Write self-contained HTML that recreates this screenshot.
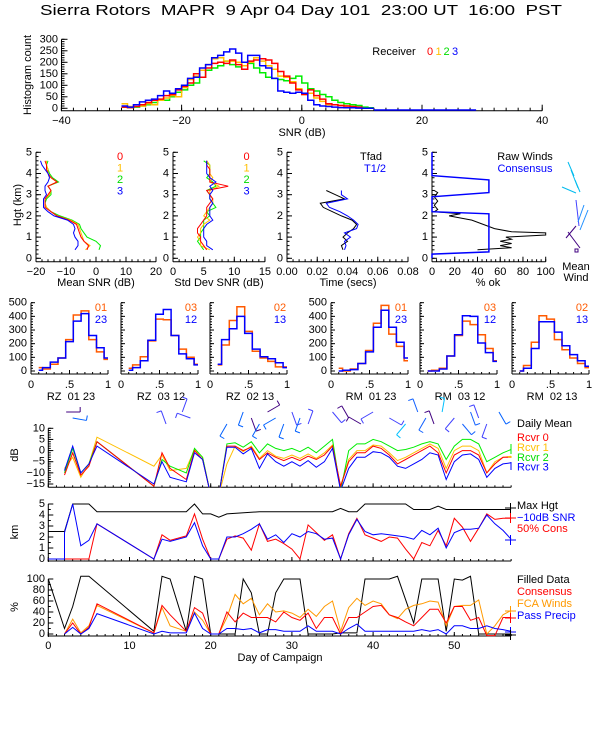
<!DOCTYPE html>
<html><head><meta charset="utf-8"><style>
html,body{margin:0;padding:0;background:#fff;}
svg{display:block;}
text{font-family:"Liberation Sans",sans-serif;white-space:pre;}
</style></head><body>
<svg id="chart" width="600" height="750" viewBox="0 0 600 750" xmlns="http://www.w3.org/2000/svg">
<rect x="0" y="0" width="600" height="750" fill="#fff"/>
<text x="301" y="15" text-anchor="middle" font-size="15" textLength="522" lengthAdjust="spacingAndGlyphs" xml:space="preserve" style="white-space:pre">Sierra Rotors  MAPR  9 Apr 04 Day 101  23:00 UT  16:00  PST</text>
</svg>
<script>
// ===== DATA =====
const snrBinStart = -30;
const histR0 = [5,3,8,15,25,35,40,55,60,80,95,110,150,135,175,195,200,195,210,190,170,205,210,215,210,195,160,140,110,80,60,80,55,40,20,15,12,10,8,5,0,0];
const histR1 = [20,8,15,10,20,15,35,45,55,50,90,125,140,165,190,215,220,205,205,200,185,200,220,205,185,170,140,135,115,85,60,65,45,30,15,15,12,10,5,3,0,0];
const histR2 = [5,3,5,10,15,25,35,35,50,70,80,100,110,135,165,175,185,205,190,180,200,195,175,155,135,130,125,120,130,140,110,85,75,60,50,35,25,20,15,12,5,2];
const histR3 = [10,5,15,28,35,40,55,75,65,85,100,130,135,175,190,220,230,245,258,240,200,230,230,185,175,130,75,70,65,70,65,35,15,10,8,5,3,2,2,1,0,0];
const profHgt = [0.4,0.6,0.8,1.0,1.2,1.4,1.6,1.8,2.0,2.2,2.4,2.6,2.8,3.0,3.2,3.4,3.6,3.8,4.0,4.2,4.4,4.6];
const meanSnr0 = [-3,-2.5,-4,-5,-5.5,-6,-6.5,-9,-13,-15,-17,-17,-17,-16,-15,-16,-13,-15,-16,-16.5,-16.5,-17];
const meanSnr1 = [-3.5,-2,-4,-4.5,-5,-5.5,-6,-8.5,-13,-15,-16.5,-17,-17,-15.5,-15,-16,-13,-15,-16,-16,-16.5,-16.5];
const meanSnr2 = [1,1.5,0,-3,-4,-5,-5.5,-8,-12,-15,-16.5,-17,-16.5,-15,-15,-16,-12.5,-14.5,-15.5,-16,-16.5,-16];
const meanSnr3 = [-7,-6,-6,-7,-7.5,-7,-7.5,-9.5,-14,-16,-17.5,-17.5,-17.5,-16.5,-17,-17,-16,-15.5,-16,-17,-18,-18.5];
const sdSnr0 = [5.5,5,4.5,4.5,4,4,4.5,5,5.5,5.5,5.5,6,6.5,6,5.5,9,6,6,6,6,5.5,5.5];
const sdSnr1 = [6,4.5,4.5,4,4.5,4.5,5,6,5,5.5,6,6.5,6.5,6,6,7.5,6,6.5,6,6,6,5.5];
const sdSnr2 = [5,4.5,4,4.5,4.5,5,5,5,6,5.5,7,6.5,6,6,5.5,7,6.5,5.5,6,6,6,5];
const sdSnr3 = [6.5,5.5,5.5,5,5,5,5.5,6.5,6,6,6,6.5,6,6,6.5,6,7,6,5.5,5.5,5.5,5.5];
const timeHgt = [0.4,0.6,0.8,1.0,1.2,1.4,1.6,1.8,2.0,2.2,2.4,2.6,2.8,3.0,3.2];
const tFad = [0.037,0.036,0.040,0.037,0.040,0.044,0.046,0.043,0.036,0.030,0.024,0.022,0.038,0.032,0.026];
const tHalf = [0.038,0.039,0.038,0.042,0.038,0.046,0.047,0.044,0.040,0.035,0.028,0.026,0.040,0.036,0.036];
const consHgt = [0,0.2,0.3,2.1,2.2,2.9,3.1,3.7,3.9,5];
const consPct = [0,0,50,50,0,0,50,50,0,0];
const rawHgt = [0.4,0.5,0.6,0.7,0.8,0.9,1.0,1.1,1.2,1.25,1.4,1.6,1.8,2.0,2.1,2.2,2.3,2.5,2.7,2.9,3.1,3.2];
const rawPct = [40,70,60,70,60,70,65,100,100,70,55,45,35,15,25,2,5,2,5,2,5,2];
const corrEdges = [0.1,0.15,0.25,0.35,0.45,0.55,0.65,0.75,0.85,0.95,1.0];
const corrLabels = [["RZ  01 23","01","23"],["RZ  03 12","03","12"],["RZ  02 13","02","13"],["RM  01 23","01","23"],["RM  03 12","03","12"],["RM  02 13","02","13"]];
const corrA = [[25,15,50,95,230,410,440,230,140,85],[20,45,105,220,380,375,260,160,100,50],[45,190,370,470,290,145,95,70,30,30],[20,0,15,55,150,350,480,270,180,75],[0,5,20,110,260,365,340,265,165,75],[0,40,210,405,380,230,155,95,55,25]];
const corrB = [[5,25,65,95,215,365,420,260,170,95],[5,25,75,225,415,450,260,125,90,45],[50,230,310,400,275,160,105,90,60,25],[0,5,10,55,140,320,445,320,210,95],[0,0,15,110,265,405,400,205,135,70],[0,20,165,360,360,285,185,120,75,35]];
const dayA = [2,3,4,5,6,13,14,15,17,18,19,20,21,22,23,24,25,26,27,28,29,30,31,32,33,34,35,36,37,38,39,40,41,42,43,44,45,46,47,48,49,50,51,52,53,54,55,56,57];
const rcvr0 = [-11,-1,-11,-7,4,-16,-1,-8,-13,0,-4,-20,-20,2,2,0,1.5,-4,-1,-3,-4.5,-3,-4.5,-2.5,-4,-2,2,-16,-5,-1,-1,2,1,-2,-6,-4,-2,0,2,-1,-10,-2,0,0,-2,-10,-6,-3,-3];
const rcvr1 = [-8,-3,-12,-6,6,-7,-2,-9,-8,0.5,-3,-20,-20,-6,2,-0.5,2,-3.5,0,-2.5,-3.5,-2,-3.5,-1.5,-3.5,-1,2.5,-16,-4,0,0,2.5,2,-1,-4.5,-3,-1,1,3,1,-8,0,2,2,0,-10,-5,-3,-2.5];
const rcvr2 = [-10,1,-10,-6,4,-16,-4,-7,-10,1,-3,-20,-20,3,3.5,1.5,4,-1,3,1,0,1,-0.5,1.5,-1,2,5,-18,0,3,3,5,4,2,0,0.5,1.5,3,4,3,-4,2,5,5,3,-5,-3,-1,0.5];
const rcvr3 = [-9,2,-10,-6,2,-15,-5,-12,-14,-1,-4,-20,-20,1.5,1.5,-1.5,1,-8,-1.5,-5,-7,-5,-7,-4.5,-7.5,-5,1,-18,-8,-3,-3,-0.5,-1,-3,-7,-8,-6,-4,-1,-2,-13,-5,-2,-1.5,-4,-12,-8,-6,-5.5];
const dayMax = [0,2,3,5,6,17,18,19,20,21,22,26,35,36,37,38,39,44,45,47,48,49,57];
const maxHgt = [2.5,2.5,5,5,4.3,4.3,5,4.1,4.1,3.8,4.1,4.3,4.3,4.6,4.3,4.3,5,5,4.5,4.5,4.8,4.5,4.5];
const daySnr = [0,2,2,3,4,5,6,13,14,15,17,18,19,20,21,22,23,24,25,26,27,28,29,30,31,32,33,34,35,36,37,38,39,40,41,42,43,44,45,46,47,48,49,50,51,52,53,54,55,56,57];
const snrHgt = [0,0,2.4,5,1.2,1.7,3.2,0,1.8,1.6,2.0,3.3,1.2,0,0,2.0,2.0,2.3,2.7,3.2,1.8,2.2,1.5,2.3,2.0,2.5,2.3,1.8,1.9,0,2.2,3.6,2.5,2.2,2.3,2.2,2.1,2.0,1.8,2.6,2.2,2.8,1.0,2.4,2.7,2.7,2.8,4.0,3.2,2.6,1.8];
const dayCons = [0,5,6,13,14,15,17,18,19,20,21,22,23,24,25,26,27,28,29,30,31,32,33,34,35,36,37,38,39,40,41,42,43,44,45,46,47,48,49,50,51,52,53,54,55,56,57];
const consHgtDay = [0,0,3.2,0,2.2,1.7,2.1,4.1,1.8,0,0,1.8,2.1,1.9,0.8,3.2,1.6,1.8,1.4,0.9,0,3.1,2.4,1.7,2.2,0,2.3,3.7,2.2,1.9,1.6,2.0,1.9,0.9,0,1.5,1.2,2.6,1.2,3.7,2.9,1.6,2.8,4.1,3.6,3.7,3.7];
const dayFill = [0,2,3,4,5,13,14,15,17,18,19,20,22,23,24,25,26,27,28,29,31,32,35,36,38,39,42,43,45,46,48,49,50,51,52,53,57];
const filledPct = [100,10,50,105,105,5,105,100,5,105,100,0,0,0,100,75,0,0,75,100,100,0,0,2,2,100,100,105,20,100,100,5,100,98,105,0,0];
const dayPct = [2,3,4,5,6,13,14,15,17,18,19,20,21,22,23,24,25,26,27,28,29,30,31,32,33,34,35,36,37,38,39,40,41,42,43,44,45,46,47,48,49,50,51,52,53,54,55,56,57];
const fcaPct = [0,27,2,15,52,2,48,15,5,40,25,0,0,30,72,55,65,35,55,40,42,38,30,45,32,50,60,5,48,65,52,60,55,35,28,45,52,55,60,58,15,50,52,52,62,0,15,35,43];
const consPctDay = [0,20,0,12,55,2,52,35,5,48,38,0,0,40,22,38,30,30,30,22,40,30,25,38,10,30,30,0,30,30,40,50,52,35,30,22,15,30,45,45,20,50,50,25,30,-3,-3,30,30];
const precipPct = [0,12,0,10,37,0,5,2,2,38,10,0,0,10,10,8,10,2,8,8,5,5,5,15,5,5,5,0,10,18,5,5,5,5,5,5,5,8,5,8,0,15,15,10,10,15,10,8,5];
const barbDay = [2.2,3,14.5,16.5,17.5,22,24,25,26,27,28,29,30,31,32,35,37,38.5,40,42,44,45.5,46.5,47.5,48.5,50,51,52,53,54,55.5];
const barbDir = [90,80,200,160,250,330,340,20,330,120,300,340,20,340,160,40,210,240,300,60,320,200,330,200,170,320,40,20,200,340,30];
const barbCol = [3,2,1,1,1,2,2,3,2,3,2,2,1,2,1,1,3,3,1,1,4,0,0,3,4,1,0,0,1,1,2];

// ===== DRAWING =====
const NS = 'http://www.w3.org/2000/svg';
const svg = document.getElementById('chart');
function mk(tag, attrs, name) {
  const e = document.createElementNS(NS, tag);
  for (const k in attrs) e.setAttribute(k, attrs[k]);
  
  
  svg.appendChild(e);
  return e;
}
function ln(x1, y1, x2, y2, col, name, w) {
  return mk('line', {x1: x1, y1: y1, x2: x2, y2: y2, stroke: col || '#000', 'stroke-width': w || 1}, name);
}
function tx(x, y, s, name, opt) {
  opt = opt || {};
  const e = mk('text', {x: x, y: y, 'font-size': opt.size || 11, fill: opt.col || '#000', 'text-anchor': opt.anchor || 'middle', 'dominant-baseline': 'central'}, name);
  if (opt.rot) e.setAttribute('transform', 'rotate(-90 ' + x + ' ' + y + ')');
  e.textContent = s;
  return e;
}
function pl(xs, ys, col, name, w, clip) {
  const pts = xs.map((x, i) => x.toFixed(1) + ',' + ys[i].toFixed(1)).join(' ');
  const e = mk('polyline', {points: pts, fill: 'none', stroke: col, 'stroke-width': w || 1, 'stroke-linejoin': 'miter'}, name);
  if (clip) e.setAttribute('clip-path', 'url(#' + clip + ')');
  return e;
}
function stepPath(edges, vals, sx, sy, col, name, w) {
  let d = 'M' + sx(edges[0]).toFixed(1) + ' ' + sy(vals[0]).toFixed(1);
  for (let i = 0; i < vals.length; i++) {
    if (i > 0) d += ' V' + sy(vals[i]).toFixed(1);
    d += ' H' + sx(edges[i + 1]).toFixed(1);
  }
  return mk('path', {d: d, fill: 'none', stroke: col, 'stroke-width': w || 2}, name);
}
function clipRect(id, x, y, w, h) {
  let defs = svg.querySelector('defs');
  if (!defs) { defs = document.createElementNS(NS, 'defs'); svg.insertBefore(defs, svg.firstChild); }
  const c = document.createElementNS(NS, 'clipPath');
  c.setAttribute('id', id);
  const r = document.createElementNS(NS, 'rect');
  r.setAttribute('x', x); r.setAttribute('y', y); r.setAttribute('width', w); r.setAttribute('height', h);
  c.appendChild(r); defs.appendChild(c);
}
function xAxis(sx, v0, v1, y, majors, labels, minorStep, name, labY, tick) {
  tick = tick || 5;
  ln(sx(v0), y, sx(v1), y, '#000', name + '-line');
  for (let v = v0; v <= v1 + 1e-9; v += minorStep) ln(sx(v), y, sx(v), y - tick * 0.5, '#000', name + '-minor-tick');
  majors.forEach((v, i) => {
    ln(sx(v), y, sx(v), y - tick, '#000', name + '-major-tick');
    if (labels) tx(sx(v), labY, labels[i], name + '-tick-label');
  });
}
function yAxis(sy, v0, v1, x, majors, labels, minorStep, name, labX, tick) {
  tick = tick || 5;
  ln(x, sy(v0) + 3, x, sy(v1), '#000', name + '-line');
  for (let v = v0; v <= v1 + 1e-9; v += minorStep) ln(x, sy(v), x + tick * 0.5, sy(v), '#000', name + '-minor-tick');
  majors.forEach((v, i) => {
    ln(x, sy(v), x + tick, sy(v), '#000', name + '-major-tick');
    if (labels) tx(labX, sy(v), labels[i], name + '-tick-label', {anchor: 'end'});
  });
}

(function () {
  const sx = v => 301.8 + v * 6.01, sy = c => 108.3 - c * 0.23;
  xAxis(sx, -40, 40, 110.7, [-40, -20, 0, 20, 40], ['\u221240', '\u221220', '0', '20', '40'], 2, 'snr-x-axis', 121, 6);
  yAxis(c => sy(c), 0, 300, 61.5, [0, 50, 100, 150, 200, 250, 300], ['0', '50', '100', '150', '200', '250', '300'], 10, 'count-y-axis', 58, 6);
  tx(302, 133, 'SNR (dB)', 'snr-x-axis-title');
  tx(28, 75, 'Histogram count', 'count-y-axis-title', {rot: true});
  const edges = histR0.map((_, i) => snrBinStart + i).concat([snrBinStart + histR0.length]);
  stepPath(edges, histR2, sx, sy, '#00ee00', 'hist-receiver-2', 1.5);
  stepPath(edges, histR1, sx, sy, '#ffbf00', 'hist-receiver-1', 1.5);
  stepPath(edges, histR0, sx, sy, '#ff0000', 'hist-receiver-0', 1.5);
  stepPath(edges, histR3, sx, sy, '#0000ff', 'hist-receiver-3', 1.5);
  ln(sx(12), 110, sx(29), 110, '#0000ff', 'hist-tail', 1.5);
  tx(394, 52, 'Receiver', 'legend-receiver-label');
  tx(430, 52, '0', 'legend-receiver-0', {col: '#ff0000'});
  tx(438.5, 52, '1', 'legend-receiver-1', {col: '#ffbf00'});
  tx(446.5, 52, '2', 'legend-receiver-2', {col: '#00dd00'});
  tx(455, 52, '3', 'legend-receiver-3', {col: '#0000ff'});
})();

const sh = h => 258.3 - h * 21.2;
const hTicks = [0, 1, 2, 3, 4, 5], hLab = ['0', '1', '2', '3', '4', '5'];
function profAxes(sx, v0, v1, majors, labels, minor, name, title, tcx, yx) {
  xAxis(sx, v0, v1, 261.7, majors, labels, minor, name + '-x-axis', 272, 5);
  yAxis(sh, 0, 5, sx(v0), hTicks, hLab, 0.2, name + '-y-axis', yx, 5);
  tx(tcx, 283, title, name + '-x-title');
}
const sx1 = v => 36 + (v + 20) * 3.0;
profAxes(sx1, -20, 20, [-20, -10, 0, 10, 20], ['\u221220', '\u221210', '0', '10', '20'], 2, 'mean-snr', 'Mean SNR (dB)', 96, 32);
tx(18, 205, 'Hgt (km)', 'height-axis-title', {rot: true});
pl(meanSnr2.map(sx1), profHgt.map(sh), '#00ee00', 'mean-snr-rcvr-2');
pl(meanSnr1.map(sx1), profHgt.map(sh), '#ffbf00', 'mean-snr-rcvr-1');
pl(meanSnr0.map(sx1), profHgt.map(sh), '#ff0000', 'mean-snr-rcvr-0');
pl(meanSnr3.map(sx1), profHgt.map(sh), '#0000ff', 'mean-snr-rcvr-3');
[['0', '#ff0000'], ['1', '#ffbf00'], ['2', '#00dd00'], ['3', '#0000ff']].forEach((p, i) => tx(120, 157 + i * 11.5, p[0], 'mean-snr-legend-' + p[0], {col: p[1]}));
const sx2 = v => 173 + v * 6.13;
profAxes(sx2, 0, 15, [0, 5, 10, 15], ['0', '5', '10', '15'], 1, 'sd-snr', 'Std Dev SNR (dB)', 219, 169);
pl(sdSnr2.map(sx2), profHgt.map(sh), '#00ee00', 'sd-snr-rcvr-2');
pl(sdSnr1.map(sx2), profHgt.map(sh), '#ffbf00', 'sd-snr-rcvr-1');
pl(sdSnr0.map(sx2), profHgt.map(sh), '#ff0000', 'sd-snr-rcvr-0');
pl(sdSnr3.map(sx2), profHgt.map(sh), '#0000ff', 'sd-snr-rcvr-3');
[['0', '#ff0000'], ['1', '#ffbf00'], ['2', '#00dd00'], ['3', '#0000ff']].forEach((p, i) => tx(246.5, 157 + i * 11.5, p[0], 'sd-snr-legend-' + p[0], {col: p[1]}));
const sx3 = v => 287 + v * 1512.5;
profAxes(sx3, 0, 0.08, [0, 0.02, 0.04, 0.06, 0.08], ['0.00', '0.02', '0.04', '0.06', '0.08'], 0.004, 'time', 'Time (secs)', 348, 283);
pl(tFad.map(sx3), timeHgt.map(sh), '#000', 'tfad-line');
pl(tHalf.map(sx3), timeHgt.map(sh), '#0000ff', 'thalf-line');
tx(371, 157, 'Tfad', 'legend-tfad');
tx(375, 169, 'T1/2', 'legend-thalf', {col: '#0000ff'});
const sx4 = v => 432 + v * 1.137;
profAxes(sx4, 0, 100, [0, 20, 40, 60, 80, 100], ['0', '20', '40', '60', '80', '100'], 4, 'pct-ok', '% ok', 488, 428);
pl(rawPct.map(sx4), rawHgt.map(sh), '#000', 'raw-winds-line');
pl(consPct.map(sx4), consHgt.map(sh), '#0000ff', 'consensus-pct-line', 1.5);
tx(525, 157, 'Raw Winds', 'legend-raw-winds');
tx(525, 169, 'Consensus', 'legend-consensus', {col: '#0000ff'});
[[568, 162, 574, 176, '#00bbee'], [571, 170, 578, 188, '#00bbee'], [575, 180, 580, 192, '#00bbee'], [562, 187, 576, 193, '#00bbee'], [576, 200, 579, 226, '#4040ff'], [584, 205, 578, 222, '#2090ff'], [588, 210, 580, 230, '#2090ff'], [568, 232, 580, 248, '#400080'], [566, 238, 576, 226, '#400080']].forEach(s => ln(s[0], s[1], s[2], s[3], s[4], 'mean-wind-barb'));
mk('rect', {x: 575, y: 249, width: 3, height: 3, fill: 'none', stroke: '#400080'}, 'mean-wind-marker');
tx(576, 267, 'Mean', 'mean-wind-label-1');
tx(576, 278, 'Wind', 'mean-wind-label-2');

const corrX0 = [31, 121, 210, 331, 420, 512];
const sc = c => 371 - c * 0.1366;
corrX0.forEach((x0, p) => {
  const sx = v => x0 + v * 77;
  xAxis(sx, 0, 1, 374, [0, 0.5, 1], ['0', '.5', '1'], 0.1, 'corr-' + p + '-x-axis', 385, 4);
  const showLab = (p === 0 || p === 3);
  yAxis(sc, 0, 500, x0, [0, 100, 200, 300, 400, 500], showLab ? ['0', '100', '200', '300', '400', '500'] : null, 20, 'corr-' + p + '-y-axis', x0 - 4, 4);
  stepPath(corrEdges, corrA[p], sx, sc, '#ff5a00', 'corr-' + p + '-hist-a', 1.5);
  stepPath(corrEdges, corrB[p], sx, sc, '#0000ff', 'corr-' + p + '-hist-b', 1.5);
  tx(x0 + 40, 397, corrLabels[p][0], 'corr-' + p + '-title');
  tx(x0 + 70, 308, corrLabels[p][1], 'corr-' + p + '-legend-a', {col: '#ff5a00'});
  tx(x0 + 70, 320, corrLabels[p][2], 'corr-' + p + '-legend-b', {col: '#0000ff'});
});

const sd = d => 48.3 + d * 8.12;
const sA = v => 428.3 + (10 - v) * 2.228;
const sB = v => 559 - v * 11;
const sC = v => 634 - v * 0.55;
clipRect('clipA', 48, 410, 464, 77.3);
clipRect('clipC', 48, 570, 464, 67);
const dayMaj = [0, 10, 20, 30, 40, 50];
xAxis(sd, 0, 57, 487.3, dayMaj, null, 1, 'db-x-axis', 0, 4);
yAxis(sA, -15, 10, 48.3, [-15, -10, -5, 0, 5, 10], ['\u221215', '\u221210', '\u22125', '0', '5', '10'], 1, 'db-y-axis', 45, 5);
tx(15, 455, 'dB', 'db-y-title', {rot: true});
pl(dayA.map(sd), rcvr1.map(sA), '#ffbf00', 'daily-rcvr-1', 1, 'clipA');
pl(dayA.map(sd), rcvr2.map(sA), '#00ee00', 'daily-rcvr-2', 1, 'clipA');
pl(dayA.map(sd), rcvr0.map(sA), '#ff0000', 'daily-rcvr-0', 1, 'clipA');
pl(dayA.map(sd), rcvr3.map(sA), '#0000ff', 'daily-rcvr-3', 1, 'clipA');
const barbColors = ['#1060ff', '#4040ff', '#0060ff', '#400080', '#00c0ff'];
barbDay.forEach((d, i) => {
  const x = sd(d), y = 412 + (i % 3) * 6, a = barbDir[i] * Math.PI / 180;
  const col = barbColors[barbCol[i]];
  const x2 = x + Math.sin(a) * 14, y2 = y + Math.cos(a) * 14;
  ln(x, y, x2, y2, col, 'wind-barb-staff');
  ln(x2, y2, x2 + Math.cos(a) * 5, y2 - Math.sin(a) * 5, col, 'wind-barb-flag');
});
tx(517, 424, 'Daily Mean', 'legend-daily-mean', {anchor: 'start'});
tx(517, 438, 'Rcvr 0', 'legend-rcvr-0', {anchor: 'start', col: '#ff0000'});
tx(517, 448, 'Rcvr 1', 'legend-rcvr-1', {anchor: 'start', col: '#ffbf00'});
tx(517, 458, 'Rcvr 2', 'legend-rcvr-2', {anchor: 'start', col: '#00dd00'});
tx(517, 467.7, 'Rcvr 3', 'legend-rcvr-3', {anchor: 'start', col: '#0000ff'});
ln(511, 444, 511, 454, '#00ee00', 'end-marker-rcvr-2');
ln(508, 457, 512, 457, '#ffbf00', 'end-marker-rcvr-1');
ln(511, 462, 511, 470, '#0000ff', 'end-marker-rcvr-3');

xAxis(sd, 0, 57, 561, dayMaj, null, 1, 'km-x-axis', 0, 4);
yAxis(sB, 0, 5, 48.3, [0, 1, 2, 3, 4, 5], ['0', '1', '2', '3', '4', '5'], 0.5, 'km-y-axis', 45, 5);
tx(15, 532, 'km', 'km-y-title', {rot: true});
pl(dayMax.map(sd), maxHgt.map(sB), '#000', 'max-height-line');
pl(dayCons.map(sd), consHgtDay.map(sB), '#ff0000', 'cons-50pct-height-line');
pl(daySnr.map(sd), snrHgt.map(sB), '#0000ff', 'snr-10db-height-line');
tx(517, 506, 'Max Hgt', 'legend-max-hgt', {anchor: 'start'});
tx(517, 518, '\u221210dB SNR', 'legend-10db-snr', {anchor: 'start', col: '#0000ff'});
tx(517, 529, '50% Cons', 'legend-50pct-cons', {anchor: 'start', col: '#ff0000'});
[[508, '#000'], [518, '#ff0000'], [540, '#0000ff']].forEach(m => { ln(505, m[0], 516, m[0], m[1], 'end-marker-h'); ln(510.5, m[0] - 5, 510.5, m[0] + 5, m[1], 'end-marker-v'); });

xAxis(sd, 0, 57, 636, dayMaj, ['0', '10', '20', '30', '40', '50'], 1, 'day-x-axis', 646, 4);
yAxis(sC, 0, 100, 48.3, [0, 20, 40, 60, 80, 100], ['0', '20', '40', '60', '80', '100'], 10, 'pct-y-axis', 45, 5);
tx(15, 607, '%', 'pct-y-title', {rot: true});
tx(280, 658, 'Day of Campaign', 'day-x-title');
pl(dayFill.map(sd), filledPct.map(sC), '#000', 'filled-data-line', 1, 'clipC');
pl(dayPct.map(sd), fcaPct.map(sC), '#ff9900', 'fca-winds-line', 1, 'clipC');
pl(dayPct.map(sd), consPctDay.map(sC), '#ff0000', 'consensus-pct-day-line', 1, 'clipC');
pl(dayPct.map(sd), precipPct.map(sC), '#0000ff', 'pass-precip-line', 1, 'clipC');
tx(517, 580, 'Filled Data', 'legend-filled-data', {anchor: 'start'});
tx(517, 592, 'Consensus', 'legend-consensus-pct', {anchor: 'start', col: '#ff0000'});
tx(517, 604, 'FCA Winds', 'legend-fca-winds', {anchor: 'start', col: '#ff9900'});
tx(517, 616, 'Pass Precip', 'legend-pass-precip', {anchor: 'start', col: '#0000ff'});
[[611, '#ff9900'], [618, '#ff0000'], [632, '#0000ff'], [635, '#000']].forEach(m => { ln(505, m[0], 516, m[0], m[1], 'end-marker-h'); ln(510.5, m[0] - 5, 510.5, m[0] + 5, m[1], 'end-marker-v'); });
</script>
</body></html>
